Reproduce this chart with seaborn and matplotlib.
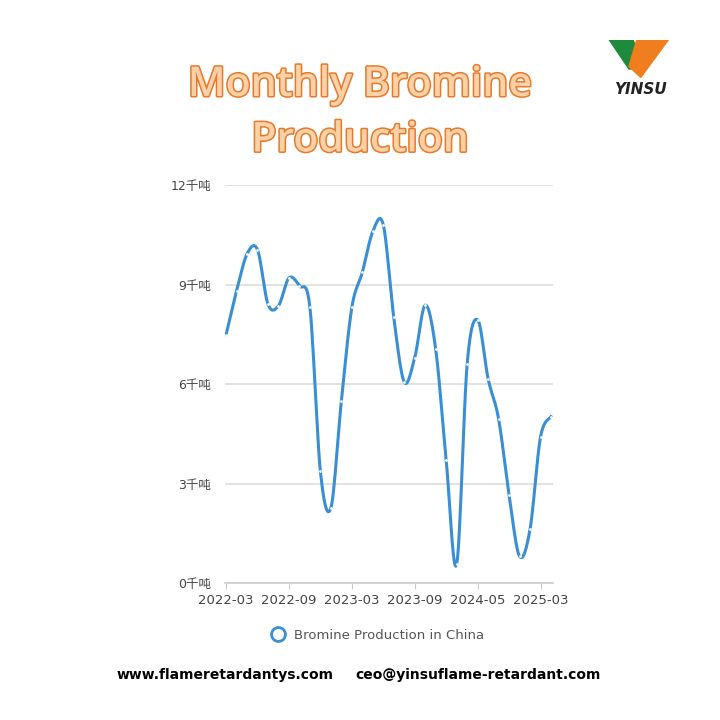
import numpy as np
import pandas as pd
import seaborn as sns
import matplotlib.pyplot as plt
import matplotlib.patheffects as pe
from matplotlib.lines import Line2D

plt.rcParams["font.family"] = ["DejaVu Sans", "Noto Sans CJK SC", "Noto Sans CJK JP"]

# data (thousand tonnes)
months = ["2022-03", "2022-04", "2022-05", "2022-06", "2022-07", "2022-08",
          "2022-09", "2022-10", "2022-11", "2022-12", "2023-01", "2023-02",
          "2023-03", "2023-04", "2023-05", "2023-06", "2023-07", "2023-08",
          "2023-09", "2023-10", "2023-11", "2023-12", "2024-03", "2024-04",
          "2024-05", "2024-07", "2024-08", "2024-10", "2024-11", "2024-12",
          "2025-03", "2025-04"]
production = [7.49, 8.81, 9.92, 10.05, 8.41, 8.36, 9.20, 8.96, 8.31, 3.37,
              2.27, 5.49, 8.31, 9.37, 10.60, 10.80, 8.01, 6.06, 6.80, 8.38,
              7.05, 3.70, 0.57, 6.60, 7.94, 6.16, 4.95, 2.65, 0.81, 1.63,
              4.41, 5.02]
yticks = [0, 3, 6, 9, 12]

df = pd.DataFrame({"idx": np.arange(len(months)), "month": months, "value": production})

def catmull(x, y, n=12):
    # smooth path through the data points (like a smoothed line series)
    px = np.concatenate([[x[0]], x, [x[-1]]])
    py = np.concatenate([[y[0]], y, [y[-1]]])
    xs, ys = [], []
    t = np.linspace(0, 1, n, endpoint=False)
    for i in range(1, len(px) - 2):
        for p, out in ((px, xs), (py, ys)):
            p0, p1, p2, p3 = p[i - 1], p[i], p[i + 1], p[i + 2]
            out.extend(0.5 * (2 * p1 + (-p0 + p2) * t + (2 * p0 - 5 * p1 + 4 * p2 - p3) * t**2
                              + (-p0 + 3 * p1 - 3 * p2 + p3) * t**3))
    xs.append(x[-1]); ys.append(y[-1])
    return np.array(xs), np.array(ys)

sx, sy = catmull(df["idx"].values.astype(float), df["value"].values)
smooth = pd.DataFrame({"x": sx, "y": sy})

blue = "#3a8fd4"
fig = plt.figure(figsize=(7.2, 7.2), dpi=100)
ax = fig.add_axes([0.3125, 0.19, 0.455, 0.553])
sns.lineplot(data=smooth, x="x", y="y", ax=ax, color=blue, lw=2.2, sort=False)
sns.scatterplot(data=df, x="idx", y="value", ax=ax, color="white", s=4, linewidth=0, zorder=3)

ax.set_ylim(0, 12)
ax.set_xlim(-0.1, 31.15)
ax.set_yticks(yticks)
ax.set_yticklabels([f"{v}千吨" for v in yticks], fontsize=9, color="#444")
ticks = list(range(0, len(months), 6))
ax.set_xticks(ticks)
ax.set_xticklabels([months[i] for i in ticks], fontsize=9.5, color="#444")
ax.grid(axis="y", color="#dddddd", lw=1.2)
ax.set_axisbelow(True)
for s in ["top", "right", "left"]:
    ax.spines[s].set_visible(False)
ax.spines["bottom"].set_color("#cccccc")
ax.spines["bottom"].set_linewidth(1.2)
ax.tick_params(axis="y", length=0, pad=10)
ax.tick_params(axis="x", color="#cccccc", length=4)
ax.set_xlabel("")
ax.set_ylabel("")

# title
stroke = [pe.withStroke(linewidth=2.2, foreground="#e8782a")]
for txt, y in (("Monthly Bromine", 0.882), ("Production", 0.805)):
    fig.text(0.5, y, txt, ha="center", va="center", fontsize=29.5, color="#fbd2a8",
             fontfamily="Open Sans", weight="semibold", path_effects=stroke)

# legend
h = Line2D([], [], marker="o", ls="", mfc="white", mec=blue, mew=2, ms=10)
fig.legend([h], ["Bromine Production in China"], loc="center", bbox_to_anchor=(0.52, 0.118),
           frameon=False, fontsize=9.5, labelcolor="#555", handletextpad=0.2)

# footer
fig.text(0.463, 0.062, "www.flameretardantys.com", ha="right", va="center", fontsize=10, weight="bold")
fig.text(0.494, 0.062, "ceo@yinsuflame-retardant.com", ha="left", va="center", fontsize=10, weight="bold")

# logo
lax = fig.add_axes([0.835, 0.875, 0.11, 0.07])
lax.axis("off")
lax.set_xlim(0, 10); lax.set_ylim(0, 6)
lax.fill([1, 4, 5.5, 3.5], [6, 6, 2.5, 2.5], color="#1e8a3c")
lax.fill([4.5, 8.5, 5, 3.5], [6, 6, 1.5, 2.8], color="#f07d1e")
lax.text(5, 0.0, "YINSU", ha="center", va="center", fontsize=11, weight="bold", style="italic", color="#222")

fig.savefig("out.png", dpi=100, facecolor="white")
